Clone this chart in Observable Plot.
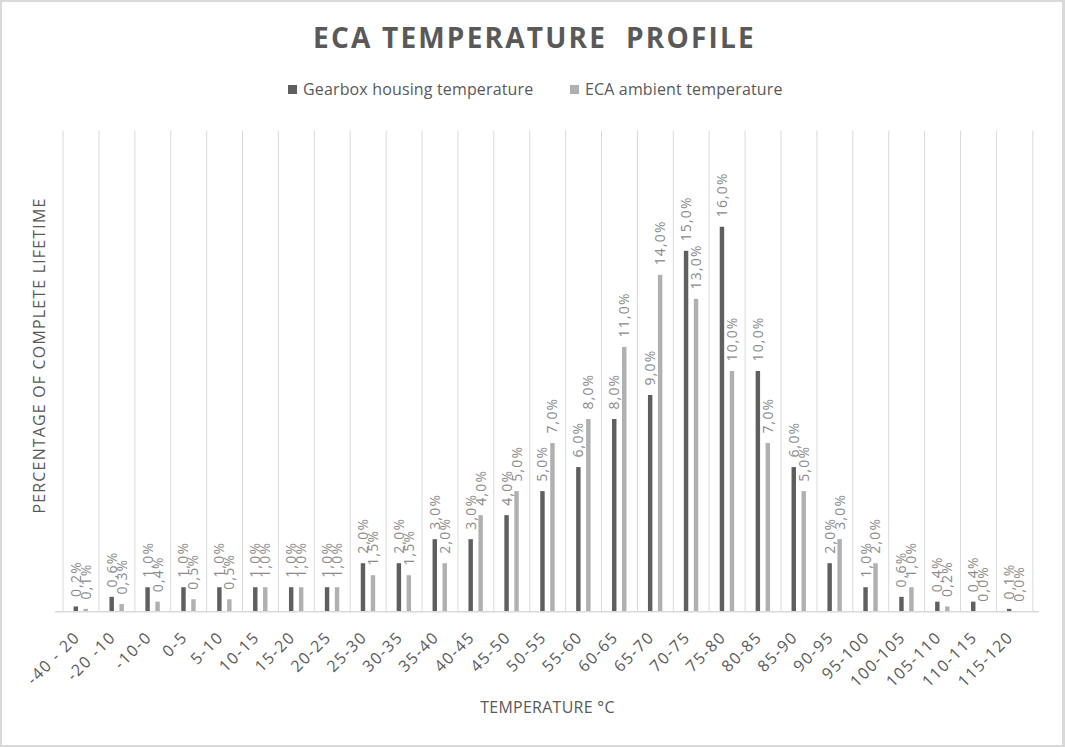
<!DOCTYPE html>
<html>
<head>
<meta charset="utf-8">
<script src="https://cdn.jsdelivr.net/npm/d3@7"></script>
<script src="https://cdn.jsdelivr.net/npm/@observablehq/plot@0.6"></script>
<style>
  html, body { margin: 0; padding: 0; background: #fff; }
  #chart { position: relative; width: 1065px; height: 747px; box-sizing: border-box; border: 2px solid #d9d9d9; border-right-width: 3px; overflow: hidden; font-family: "Open Sans", sans-serif; }
  #plot { position: absolute; left: -2px; top: -2px; }
  .title { position: absolute; left: 0; width: 1065px; top: 21px; text-align: center; font-size: 28px; line-height: 28px; font-weight: 700; letter-spacing: 2.2px; color: #595959; }
  .legend { position: absolute; top: 79px; font-size: 16px; line-height: 16px; color: #595959; white-space: nowrap; letter-spacing: 0.15px; }
  .sw { position: absolute; top: 4px; width: 9px; height: 9px; }
</style>
</head>
<body>
<div id="chart">
  <div id="plot"></div>
  <div class="title">ECA TEMPERATURE&nbsp; PROFILE</div>
  <div class="legend" style="left:286px"><span class="sw" style="left:0;background:#5f5f5f"></span><span style="margin-left:15px">Gearbox housing temperature</span></div>
  <div class="legend" style="left:568px"><span class="sw" style="left:0;background:#b0b0b0"></span><span style="margin-left:15px">ECA ambient temperature</span></div>
</div>
<script>
const categories = ["-40 - 20", "-20 -10", "-10-0", "0-5", "5-10", "10-15", "15-20", "20-25", "25-30", "30-35", "35-40", "40-45", "45-50", "50-55", "55-60", "60-65", "65-70", "70-75", "75-80", "80-85", "85-90", "90-95", "95-100", "100-105", "105-110", "110-115", "115-120"];
const gearbox = [0.2, 0.6, 1.0, 1.0, 1.0, 1.0, 1.0, 1.0, 2.0, 2.0, 3.0, 3.0, 4.0, 5.0, 6.0, 8.0, 9.0, 15.0, 16.0, 10.0, 6.0, 2.0, 1.0, 0.6, 0.4, 0.4, 0.1];
const ambient = [0.1, 0.3, 0.4, 0.5, 0.5, 1.0, 1.0, 1.0, 1.5, 1.5, 2.0, 4.0, 5.0, 7.0, 8.0, 11.0, 14.0, 13.0, 10.0, 7.0, 5.0, 3.0, 2.0, 1.0, 0.2, 0.0, 0.0];

const rows = categories.map((c, i) => ({cat: c, gear: gearbox[i], amb: ambient[i]}));
const fmt = v => d3.format(".1f")(v).replace(".", ",") + "%";

const W = 1065, H = 747, mL = 55, mR = 23, mT = 131, mB = 134;
const bw = (W - mL - mR) / categories.length;
const barInset = (bw - 5) / 2;
const darkC = "#5f5f5f", lightC = "#b0b0b0", labelC = "#8a8a8a", textC = "#595959";

const plot = Plot.plot({
  width: W, height: H,
  marginLeft: mL, marginRight: mR, marginTop: mT, marginBottom: mB,
  style: {fontFamily: "Open Sans, sans-serif", fontSize: "16px", color: textC, background: "transparent"},
  x: {domain: categories, padding: 0, label: null, axis: null},
  y: {domain: [0, 20], axis: null},
  marks: [
    Plot.ruleX(categories, {x: d => d, dx: -bw / 2, y1: 0, y2: 20, stroke: "#d9d9d9", strokeWidth: 1}),
    Plot.ruleX(categories.slice(-1), {x: d => d, dx: bw / 2, y1: 0, y2: 20, stroke: "#d9d9d9", strokeWidth: 1}),
    Plot.barY(rows, {x: "cat", y: "gear", fill: darkC, insetLeft: barInset, insetRight: barInset, dx: -5}),
    Plot.barY(rows, {x: "cat", y: "amb", fill: lightC, insetLeft: barInset, insetRight: barInset, dx: 5}),
    Plot.ruleY([0], {stroke: "#d9d9d9", strokeWidth: 1.5}),
    Plot.text(categories, {x: d => d, frameAnchor: "bottom", text: d => d, rotate: -45, textAnchor: "end", lineAnchor: "middle", dx: -4, dy: 23, fill: textC, fontSize: 16}),
    Plot.text(rows, {x: "cat", y: "gear", text: d => fmt(d.gear), rotate: -90, textAnchor: "start", dx: -5, dy: -10, fill: labelC, fontSize: 14}),
    Plot.text(rows, {x: "cat", y: "amb", text: d => fmt(d.amb), rotate: -90, textAnchor: "start", dx: 5, dy: -10, fill: labelC, fontSize: 14}),
    Plot.text(["PERCENTAGE OF COMPLETE LIFETIME"], {frameAnchor: "left", text: d => d, rotate: -90, textAnchor: "middle", lineAnchor: "middle", dx: -16, dy: -16, fill: textC, fontSize: 16}),
    Plot.text(["TEMPERATURE °C"], {frameAnchor: "bottom", text: d => d, textAnchor: "middle", lineAnchor: "middle", dy: 96, fill: textC, fontSize: 16})
  ]
});
// letter spacing per text layer (in mark order)
const spacing = ["1.5px", "1.2px", "1.2px", "1.2px", "0.3px"];
plot.querySelectorAll('g[aria-label="text"]').forEach((g, i) => { if (spacing[i]) g.style.letterSpacing = spacing[i]; });
document.getElementById("plot").appendChild(plot);
</script>
</body>
</html>
